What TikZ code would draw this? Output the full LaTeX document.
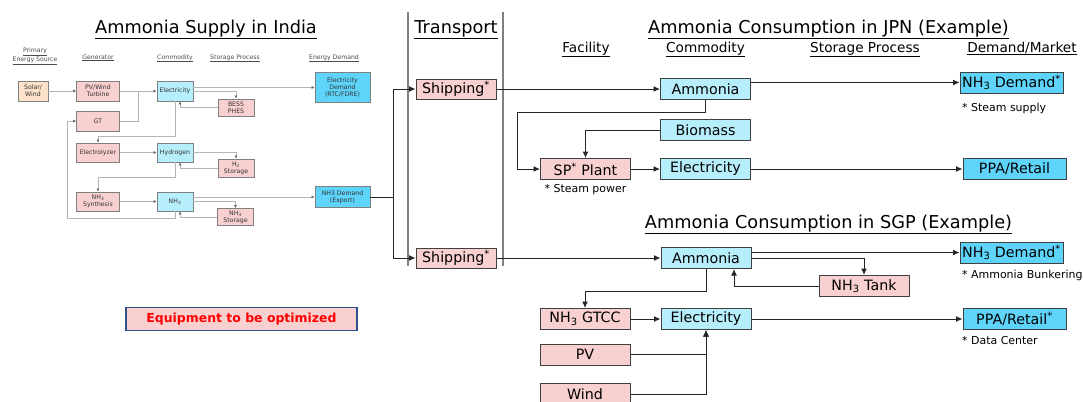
\documentclass[tikz,border=0pt]{standalone}
\usepackage{fontspec}
\setmainfont{DejaVu Sans}
\usepackage{xcolor}
\usepackage{tikz}
\usetikzlibrary{arrows.meta,positioning,calc}

\definecolor{pinkfill}{RGB}{249,208,208}
\definecolor{peachfill}{RGB}{251,226,201}
\definecolor{commodfill}{RGB}{183,238,251}
\definecolor{demandfill}{RGB}{94,212,250}
\definecolor{boxline}{RGB}{64,64,64}
\definecolor{smallline}{RGB}{128,128,128}
\definecolor{feedgray}{RGB}{178,182,186}
\definecolor{legendline}{RGB}{47,82,143}

\newcommand{\nhthree}{NH\textsubscript{3}}

\begin{document}
\begin{tikzpicture}
  [
    x=1bp, y=-1bp,
    every node/.style={inner sep=0pt},
    equip/.style={rectangle,draw=boxline,fill=pinkfill,line width=1bp,minimum width=90bp,minimum height=21bp,font=\fontsize{14.3}{16}\selectfont},
    commod/.style={equip,fill=commodfill},
    market/.style={equip,fill=demandfill,minimum width=103bp},
    tiny/.style={rectangle,draw=smallline,line width=0.8bp,fill=pinkfill,minimum width=43bp,minimum height=20bp,align=center,text=black!80,font=\fontsize{6.2}{7}\selectfont},
    tinycommod/.style={tiny,fill=commodfill,minimum width=36bp},
    tinystore/.style={tiny,minimum width=36bp,minimum height=17bp},
    tinydemand/.style={tiny,fill=demandfill,minimum width=55bp},
    title/.style={anchor=base,font=\fontsize{17.8}{20}\selectfont},
    header/.style={anchor=base,font=\fontsize{13.7}{16}\selectfont},
    smallheader/.style={anchor=base,align=center,text=black!70,font=\fontsize{6.2}{7.5}\selectfont},
    note/.style={anchor=west,font=\fontsize{11}{13}\selectfont},
    legend/.style={rectangle,draw=legendline,line width=1.8bp,fill=pinkfill,minimum width=231bp,minimum height=23bp,text=red,font=\bfseries\fontsize{12.5}{14}\selectfont},
    flow/.style={-{Latex[length=6.5bp,width=6bp]},draw=black!85,line width=1bp},
    feedplain/.style={draw=feedgray,line width=0.9bp},
    feed/.style={feedplain,-{Latex[length=3bp,width=3bp,color=black!60]}},
    divider/.style={draw=black!50,line width=1.6bp}
  ]
  \useasboundingbox (0,0) rectangle (1083,401);

  % supply side, India
  \node[title] (india title) at (206,33) {\underline{Ammonia Supply in India}};
  \node[smallheader,anchor=center] (h source) at (35,56) {\underline{Primary}\\\underline{Energy Source}};
  \node[smallheader] (h generator) at (98,59) {\underline{Generator}};
  \node[smallheader] (h commodity) at (175,59) {\underline{Commodity}};
  \node[smallheader] (h storage) at (235,59) {\underline{Storage Process}};
  \node[smallheader] (h demand) at (334,59) {\underline{Energy Demand}};

  \node[tiny,fill=peachfill,minimum width=30bp] (solar) at (33,91) {Solar/\\Wind};
  \node[tiny] (pv turbine) at (98,91) {PV/Wind\\Turbine};
  \node[tiny] (gt) at (98,121) {GT};
  \node[tiny,minimum height=19bp] (electrolyzer) at (98,152.5) {Electrolyzer};
  \node[tiny,minimum height=19bp] (synthesis) at (98,201.5) {\nhthree\\Synthesis};
  \node[tinycommod] (elec in) at (175,91) {Electricity};
  \node[tinycommod,minimum height=19bp] (hydrogen) at (175,152.5) {Hydrogen};
  \node[tinycommod,minimum height=19bp] (nh3 in) at (175,201.5) {\nhthree};
  \node[tinystore] (bess) at (236,107.5) {BESS\\PHES};
  \node[tinystore,minimum height=18bp] (h2 store) at (236,168) {H\textsubscript{2}\\Storage};
  \node[tinystore] (nh3 store) at (235.5,217) {\nhthree\\Storage};
  \node[tinydemand,minimum height=30bp] (elec demand) at (342.5,87.5) {Electricity\\Demand\\(RTC/FDRE)};
  \node[tinydemand,minimum height=21bp] (export) at (342.5,197) {NH3 Demand\\(Export)};

  \draw[feed] (solar) -- (pv turbine);
  \draw[feed] (pv turbine) -- (elec in);
  \draw[feedplain] (gt.east) -| ($(pv turbine.east)!.5!(elec in.west)$);
  \draw[feed] (elec in.east |- elec demand.west) -- (elec demand.west);
  \draw[feed] (elec in.east) -| (bess.north);
  \draw[feed] (bess.west) -| ([xshift=5bp]elec in.south);
  \draw[feed] (elec in.south) -- ++(0,35) -| (electrolyzer.north);
  \draw[feed] (electrolyzer) -- (hydrogen);
  \draw[feed] (hydrogen.east) -| (h2 store.north);
  \draw[feed] (h2 store.west) -| ([xshift=5bp]hydrogen.south);
  \draw[feed] (hydrogen.south) -- ++(0,15) -| (synthesis.north);
  \draw[feed] (synthesis) -- (nh3 in);
  \draw[feed] (nh3 in.east |- export.west) -- (export.west);
  \draw[feed] (nh3 in.east) -| (nh3 store.north);
  \draw[feed] (nh3 store.west) -| ([xshift=5bp]nh3 in.south);
  \draw[feed] (nh3 in.south) -- ++(0,7) -| ([xshift=-9bp]gt.west) -- (gt.west);

  \node[legend] (legend) at (241.5,319) {Equipment to be optimized};

  % transport
  \draw[divider] (408,12) -- (408,266);
  \draw[divider] (503,12) -- (503,266);
  \node[title] (transport title) at (456,33) {\underline{Transport}};
  \node[equip,minimum width=80bp,minimum height=20bp] (ship jpn) at (456,89) {Shipping\textsuperscript{*}};
  \node[equip,minimum width=80bp,minimum height=20bp] (ship sgp) at (456,258) {Shipping\textsuperscript{*}};

  \draw[flow] (export.east) -- ++(23,0) coordinate (ship split) |- (ship jpn.west);
  \draw[flow] (ship split) |- (ship sgp.west);

  % consumption, Japan
  \node[title] (jpn title) at (828.5,33) {\underline{Ammonia Consumption in JPN (Example)}};
  \node[header] (h facility) at (586,52) {\underline{Facility}};
  \node[header] (h commod) at (705.5,52) {\underline{Commodity}};
  \node[header] (h process) at (865,52) {\underline{Storage Process}};
  \node[header] (h market) at (1022,52) {\underline{Demand/Market}};

  \node[commod] (amm jpn) at (705.5,89) {Ammonia};
  \node[commod] (biomass) at (705.5,130) {Biomass};
  \node[commod] (elec jpn) at (705.5,169) {Electricity};
  \node[equip] (sp plant) at (585.5,169) {SP\textsuperscript{*} Plant};
  \node[note,below=4bp of sp plant] (steam power) {* Steam power};
  \node[market] (nh3d jpn) at (1011.5,82.5) {\nhthree\ Demand\textsuperscript{*}};
  \node[note] (steam supply) at (962,108) {* Steam supply};
  \node[market] (ppa jpn) at (1014.5,169) {PPA/Retail};

  \draw[flow] (ship jpn) -- (amm jpn);
  \draw[flow] (amm jpn.east |- nh3d jpn.west) -- (nh3d jpn.west);
  \draw[flow] (amm jpn.south) -- ++(0,12) -| ([xshift=-23bp]sp plant.west) -- (sp plant.west);
  \draw[flow] (biomass.west) -| (sp plant.north);
  \draw[flow] (sp plant) -- (elec jpn);
  \draw[flow] (elec jpn) -- (ppa jpn);

  % consumption, Singapore
  \node[title] (sgp title) at (828.5,228) {\underline{Ammonia Consumption in SGP (Example)}};
  \node[commod] (amm sgp) at (706,258) {Ammonia};
  \node[equip] (tank) at (864,286) {\nhthree\ Tank};
  \node[market] (nh3d sgp) at (1011.5,252.5) {\nhthree\ Demand\textsuperscript{*}};
  \node[note] (bunkering) at (962,275) {* Ammonia Bunkering};
  \node[equip] (gtcc) at (585,319) {\nhthree\ GTCC};
  \node[commod] (elec sgp) at (706,319) {Electricity};
  \node[equip] (pv sgp) at (585,354.5) {PV};
  \node[equip] (wind sgp) at (585,394) {Wind};
  \node[market] (ppa sgp) at (1014.5,319) {PPA/Retail\textsuperscript{*}};
  \node[note] (data center) at (962,341) {* Data Center};

  \draw[flow] (ship sgp) -- (amm sgp);
  \draw[flow] (amm sgp.east |- nh3d sgp.west) -- (nh3d sgp.west);
  \draw[flow] (amm sgp.east) -| (tank.north);
  \draw[flow] (tank.west) -| ([xshift=28bp]amm sgp.south);
  \draw[flow] (amm sgp.south) -- ++(0,22) -| (gtcc.north);
  \draw[flow] (gtcc) -- (elec sgp);
  \draw[flow] (pv sgp.east) -| (elec sgp.south);
  \draw[flow] (wind sgp.east) -| (elec sgp.south);
  \draw[flow] (elec sgp) -- (ppa sgp);
\end{tikzpicture}
\end{document}
